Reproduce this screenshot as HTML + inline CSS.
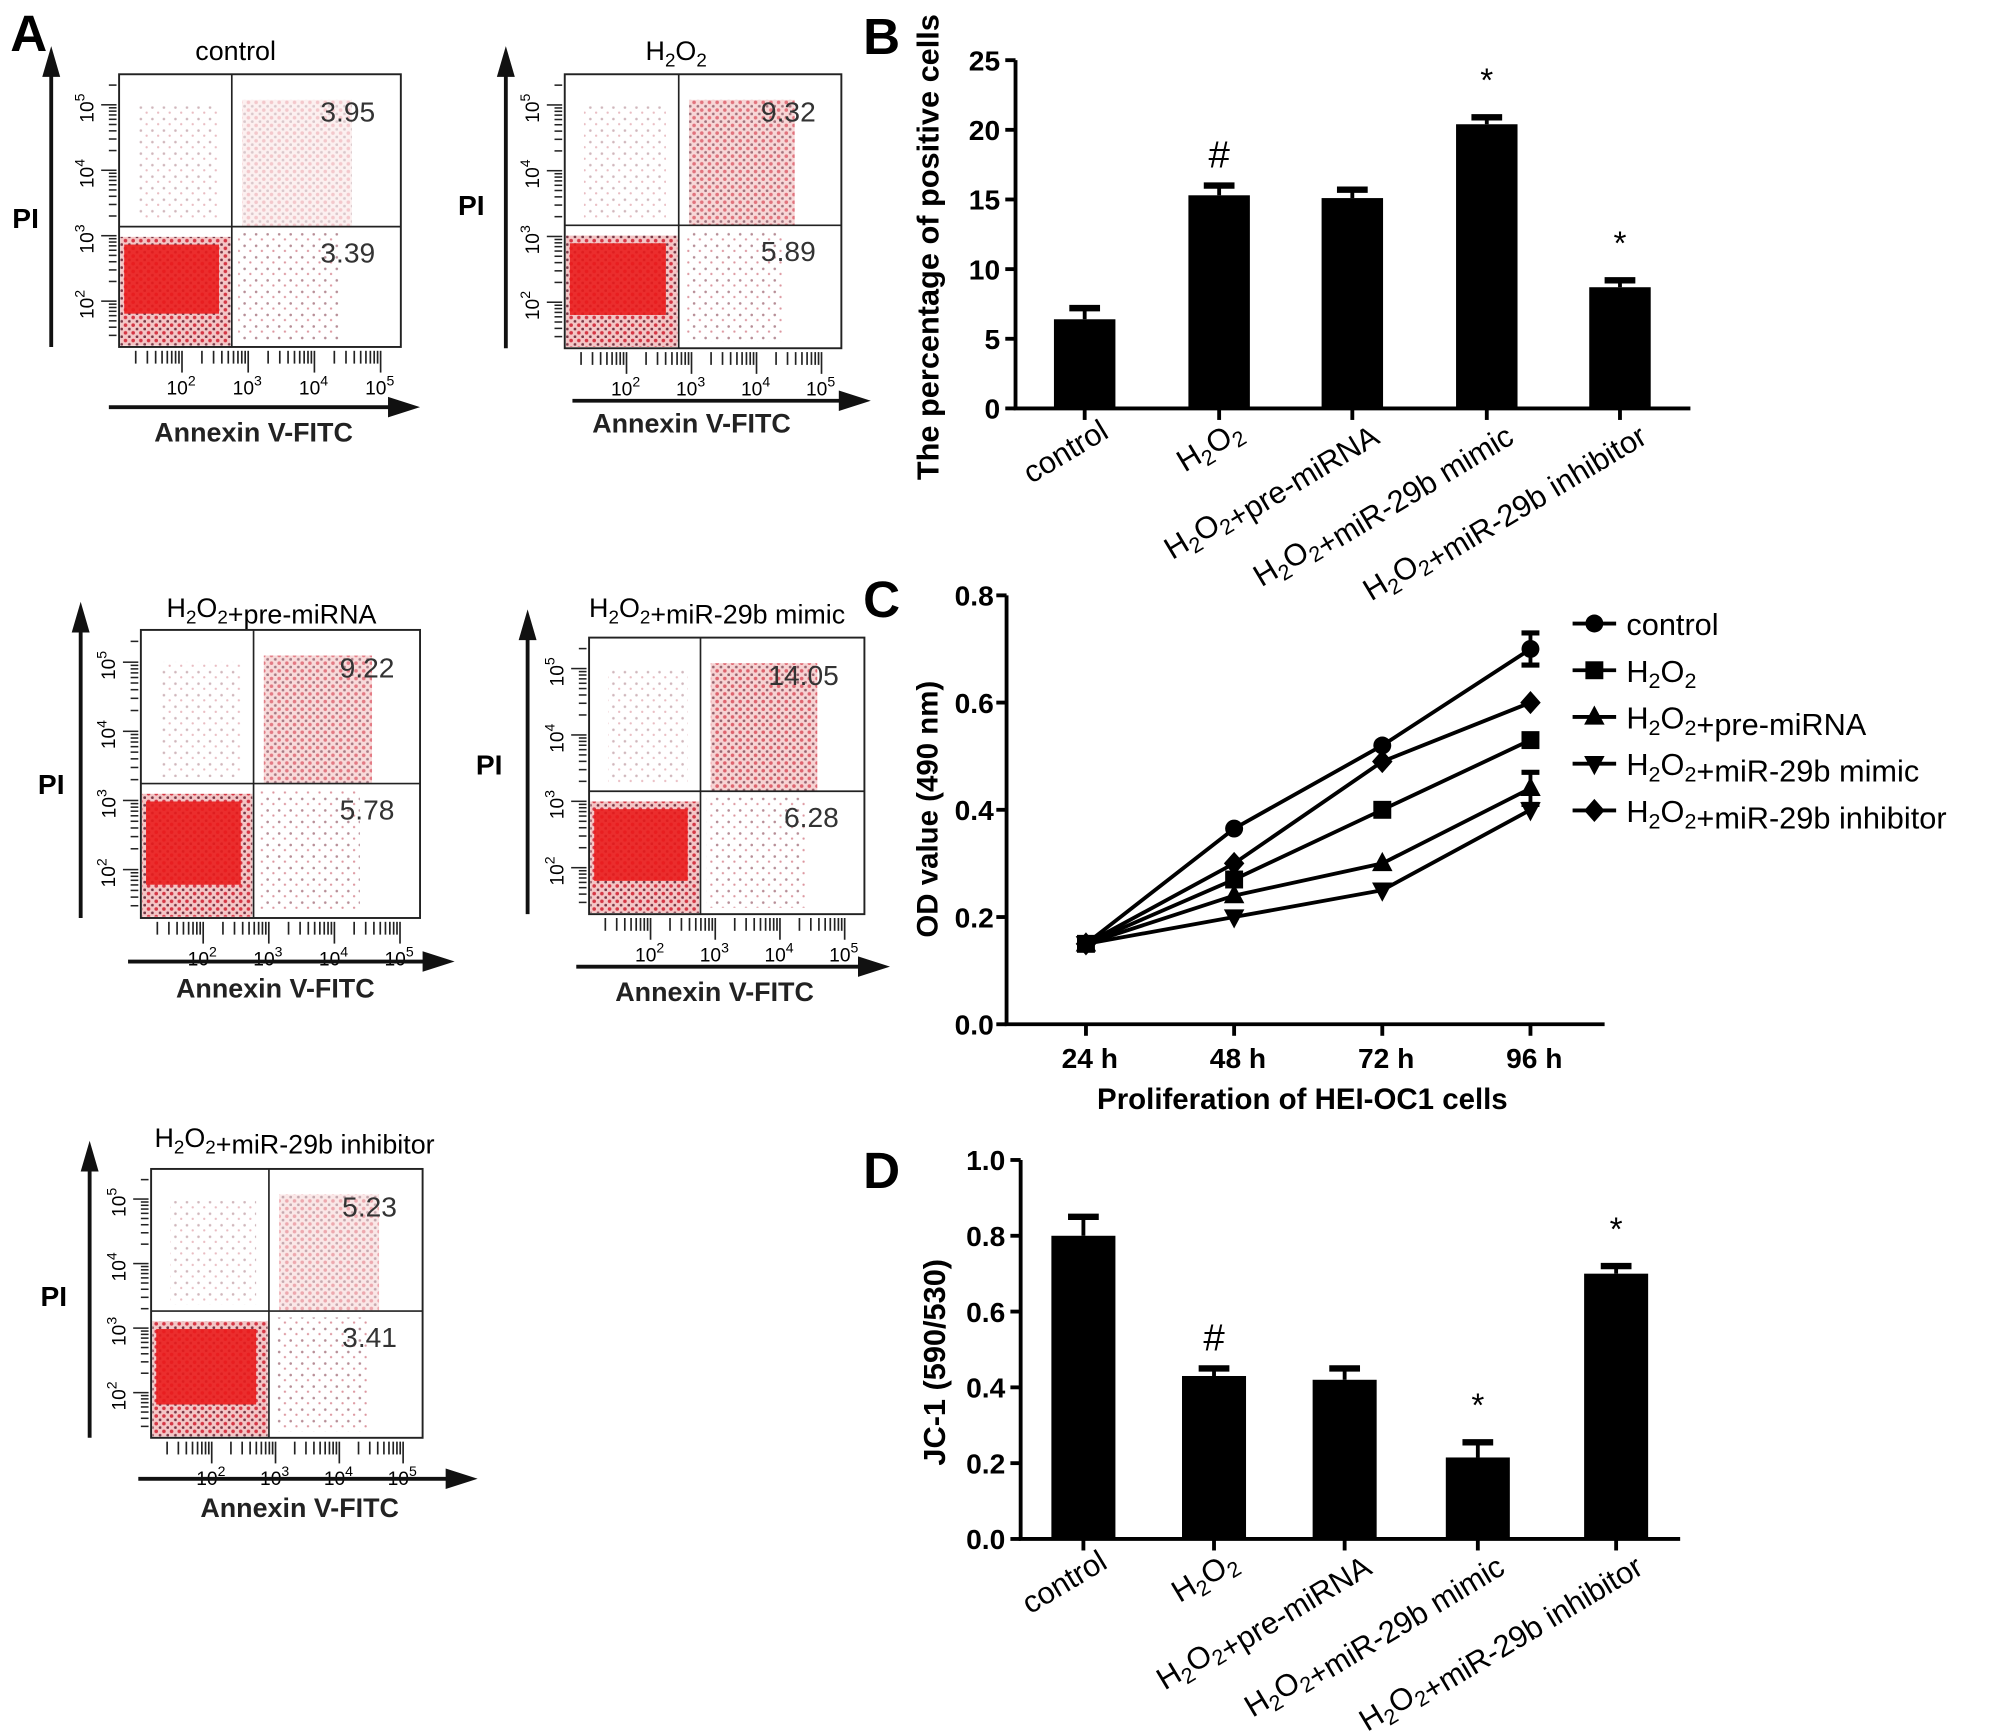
<!DOCTYPE html>
<html><head><meta charset="utf-8"><style>
html,body{margin:0;padding:0;background:#fff;}
svg{display:block;font-family:"Liberation Sans",Arial,sans-serif;}
</style></head><body>
<svg id="fig" width="2008" height="1731" viewBox="0 0 1568 1352" preserveAspectRatio="none" xmlns="http://www.w3.org/2000/svg">
<defs>
<pattern id="dots" width="9" height="9" patternUnits="userSpaceOnUse"><circle cx="2" cy="3" r="1" fill="#7a3040"/><circle cx="6.5" cy="7" r="0.9" fill="#c04050"/></pattern>
<pattern id="dense" width="6" height="6" patternUnits="userSpaceOnUse"><rect width="6" height="6" fill="#f3c0c0"/><circle cx="2" cy="2" r="1.4" fill="#d02030"/><circle cx="5" cy="5" r="1.1" fill="#6a2030"/></pattern>
</defs>
<text x="8" y="40" font-size="40" font-weight="bold">A</text>
<text x="674" y="42" font-size="40" font-weight="bold">B</text>
<text x="674" y="482" font-size="40" font-weight="bold">C</text>
<text x="674" y="928" font-size="40" font-weight="bold">D</text>
<g id="flows"></g>
<g id="chartB"></g>
<g id="chartC"></g>
<g id="chartD"></g>
</svg>
<script>
// ---------- data ----------
const bCategories = ["control","H2O2","H2O2+pre-miRNA","H2O2+miR-29b mimic","H2O2+miR-29b inhibitor"];
const bValues = [6.4, 15.3, 15.1, 20.4, 8.7];
const bErrors = [0.8, 0.7, 0.6, 0.5, 0.5];
const bMarks = ["", "#", "", "*", "*"];
const bTicks = [0, 5, 10, 15, 20, 25];

const cTimes = ["24 h","48 h","72 h","96 h"];
const cSeriesNames = ["control","H2O2","H2O2+pre-miRNA","H2O2+miR-29b mimic","H2O2+miR-29b inhibitor"];
const cControl = [0.15, 0.365, 0.52, 0.70];
const cH2O2 = [0.15, 0.27, 0.40, 0.53];
const cPre = [0.15, 0.24, 0.30, 0.44];
const cMimic = [0.15, 0.20, 0.25, 0.40];
const cInhib = [0.15, 0.30, 0.49, 0.60];
const cErrTop = [0, 0, 0, 0.03];
const cTicks = [0.0, 0.2, 0.4, 0.6, 0.8];

const dValues = [0.80, 0.43, 0.42, 0.215, 0.70];
const dErrors = [0.05, 0.02, 0.03, 0.04, 0.02];
const dMarks = ["", "#", "", "*", "*"];
const dTicks = [0.0, 0.2, 0.4, 0.6, 0.8, 1.0];

const flowTitles = ["control","H2O2","H2O2+pre-miRNA","H2O2+miR-29b mimic","H2O2+miR-29b inhibitor"];
const flowUR = ["3.95","9.32","9.22","14.05","5.23"];
const flowLR = ["3.39","5.89","5.78","6.28","3.41"];

const NS = "http://www.w3.org/2000/svg";
function mk(parent, tag, attrs, text){
  const e = document.createElementNS(NS, tag);
  for (const k in attrs) e.setAttribute(k, attrs[k]);
  if (text !== undefined) e.textContent = text;
  parent.appendChild(e);
  return e;
}
function chemText(parent, label, attrs){
  const t = mk(parent, "text", attrs);
  const parts = label.split(/(H2O2)/);
  parts.forEach(p=>{
    if (p === "H2O2"){
      mk(t,"tspan",{},"H");
      mk(t,"tspan",{"font-size":"0.7em","dy":"5"},"2");
      mk(t,"tspan",{"dy":"-5"},"O");
      mk(t,"tspan",{"font-size":"0.7em","dy":"5"},"2");
      mk(t,"tspan",{"dy":"-5"},"");
    } else if (p) mk(t,"tspan",{},p);
  });
  return t;
}

// ---------- flow plots ----------
const flowGeo = [
 {x0:93,x1:313,y0:58,y1:271,vx:181,hy:177,tx:184,ty:47,pix:20,piy:178,ax:40,hay:318,hax0:85,hax1:328,lbx:198,lby:345},
 {x0:441,x1:657,y0:58,y1:272,vx:530,hy:176,tx:528,ty:47,pix:368,piy:168,ax:395,hay:313,hax0:447,hax1:680,lbx:540,lby:338},
 {x0:110,x1:328,y0:492,y1:717,vx:198,hy:612,tx:212,ty:482,pix:40,piy:620,ax:63,hay:751,hax0:100,hax1:355,lbx:215,lby:779},
 {x0:460,x1:675,y0:498,y1:714,vx:547,hy:618,tx:560,ty:482,pix:382,piy:605,ax:412,hay:755,hax0:450,hax1:695,lbx:558,lby:782},
 {x0:118,x1:330,y0:913,y1:1123,vx:210,hy:1024,tx:230,ty:896,pix:42,piy:1020,ax:70,hay:1155,hax0:108,hax1:373,lbx:234,lby:1185}
];
const flows = document.getElementById("flows");
flowGeo.forEach((g,i)=>{
  const G = mk(flows,"g",{});
  
  
  const t = chemText(G, flowTitles[i], {x:g.tx,y:g.ty,"font-size":"21","text-anchor":"middle"});
  
  
  const w = g.x1-g.x0, h = g.y1-g.y0;
  const dens = [0.35,0.9,0.85,1,0.55][i];
  mk(G,"rect",{x:g.vx+8,y:g.y0+20,width:(g.x1-g.vx)*0.65,height:(g.hy-g.y0)-20,fill:"url(#dense)",opacity:dens*0.7});
  mk(G,"rect",{x:g.x0+15,y:g.y0+25,width:(g.vx-g.x0)-25,height:(g.hy-g.y0)-30,fill:"url(#dots)",opacity:0.35});
  mk(G,"rect",{x:g.vx+5,y:g.hy+5,width:(g.x1-g.vx)*0.6,height:(g.y1-g.hy)-10,fill:"url(#dots)",opacity:0.55});
  mk(G,"rect",{x:g.x0+1,y:g.hy+8,width:(g.vx-g.x0)-2,height:(g.y1-g.hy)-9,fill:"url(#dense)",opacity:0.9});
  mk(G,"rect",{x:g.x0+4,y:g.hy+14,width:(g.vx-g.x0)-14,height:(g.y1-g.hy)-40,fill:"#ea1c1c",opacity:0.9});
  mk(G,"rect",{x:g.x0,y:g.y0,width:w,height:h,fill:"none",stroke:"#222","stroke-width":"1.5"});
  mk(G,"line",{x1:g.vx,y1:g.y0,x2:g.vx,y2:g.y1,stroke:"#222","stroke-width":"1.3"});
  mk(G,"line",{x1:g.x0,y1:g.hy,x2:g.x1,y2:g.hy,stroke:"#222","stroke-width":"1.3"});
  const n1 = mk(G,"text",{x:g.x1-20,y:g.y0+37,"font-size":"22","text-anchor":"end",fill:"#333"},flowUR[i]);
  
  
  const n2 = mk(G,"text",{x:g.x1-20,y:g.hy+28,"font-size":"22","text-anchor":"end",fill:"#333"},flowLR[i]);
  
  
  const dw = w*0.235;
  for(let d=0; d<5; d++){
    const bx = g.x0 + w*0.0 + (d-0.05)*dw;
    for(let m=0;m<9;m++){
      const xx = bx + dw*Math.log10(m+1);
      if (xx > g.x1 - 2 || xx < g.x0 + 2) continue;
      mk(G,"line",{x1:xx,y1:g.y1+3,x2:xx,y2:g.y1+(m===0?20:13),stroke:"#222","stroke-width":"1.3"});
    }
  }
  for(let d=0; d<4; d++){
    const bx = g.x0 + w*(0.22 + d*0.235);
    const tl = mk(G,"text",{x:bx,y:g.y1+37,"font-size":"15","text-anchor":"middle"});
    mk(tl,"tspan",{},"10"); mk(tl,"tspan",{"font-size":"11","dy":"-7"},String(d+2));
  }
  const dh = h*0.24;
  for(let d=0; d<5; d++){
    const by = g.y1 - (d-0.3)*dh;
    for(let m=0;m<9;m++){
      const yy = by - dh*Math.log10(m+1);
      if (yy < g.y0 + 2 || yy > g.y1 - 2) continue;
      mk(G,"line",{x1:g.x0-2,y1:yy,x2:g.x0-(m===0?14:8),y2:yy,stroke:"#222","stroke-width":"1.2"});
    }
  }
  for(let d=0; d<4; d++){
    const ly = g.y1 - h*(0.17 + d*0.24) + 3;
    const tt = mk(G,"text",{x:g.x0-20,y:ly,"font-size":"15","text-anchor":"middle",transform:`rotate(-90 ${g.x0-20} ${ly})`});
    mk(tt,"tspan",{},"10"); mk(tt,"tspan",{"font-size":"11","dy":"-7"},String(d+2));
  }
  mk(G,"line",{x1:g.ax,y1:g.y1,x2:g.ax,y2:g.y0,stroke:"#111","stroke-width":"3"});
  mk(G,"polygon",{points:`${g.ax-7},${g.y0+2} ${g.ax+7},${g.y0+2} ${g.ax},${g.y0-22}`,fill:"#111"});
  mk(G,"line",{x1:g.hax0,y1:g.hay,x2:g.hax1-20,y2:g.hay,stroke:"#111","stroke-width":"3"});
  mk(G,"polygon",{points:`${g.hax1-25},${g.hay-8} ${g.hax1-25},${g.hay+8} ${g.hax1},${g.hay}`,fill:"#111"});
  const pi = mk(G,"text",{x:g.pix,y:g.piy,"font-size":"22","font-weight":"bold","text-anchor":"middle"},"PI");
  
  
  const ax = mk(G,"text",{x:g.lbx,y:g.lby,"font-size":"21","font-weight":"bold","text-anchor":"middle",fill:"#222"},"Annexin V-FITC");
  
  
});

// ---------- bar charts ----------
function barChart(root, cfg){
  const {axisX, axisEnd, y0, yTop, vmax, ticks, fmt, centers, bw, vals, errs, marks, ytitle, ytitleX} = cfg;
  const y = v => y0 - v/vmax*(y0-yTop);
  mk(root,"line",{x1:axisX,y1:y0,x2:axisX,y2:yTop,stroke:"#000","stroke-width":"3"});
  mk(root,"line",{x1:axisX-1.5,y1:y0,x2:axisEnd,y2:y0,stroke:"#000","stroke-width":"3"});
  ticks.forEach(t=>{
    mk(root,"line",{x1:axisX-8,y1:y(t),x2:axisX,y2:y(t),stroke:"#000","stroke-width":"3"});
    const tl = mk(root,"text",{x:axisX-12,y:y(t)+8,"font-size":"22","font-weight":"bold","text-anchor":"end"},fmt(t));
    
    
  });
  vals.forEach((v,i)=>{
    const cx = centers[i];
    const r = mk(root,"rect",{x:cx-bw/2,y:y(v),width:bw,height:y0-y(v),fill:"#000"});
    
    
    mk(root,"line",{x1:cx,y1:y(v),x2:cx,y2:y(v+errs[i]),stroke:"#000","stroke-width":"3"});
    mk(root,"line",{x1:cx-12,y1:y(v+errs[i]),x2:cx+12,y2:y(v+errs[i]),stroke:"#000","stroke-width":"5"});
    mk(root,"line",{x1:cx,y1:y0,x2:cx,y2:y0+9,stroke:"#000","stroke-width":"3"});
    if(marks[i]){
      const m = mk(root,"text",{x:cx,y:y(v+errs[i])-(marks[i]==="#"?14:20),"font-size":marks[i]==="#"?"30":"26","text-anchor":"middle"},marks[i]);
      
      
    }
    const lx = cx+20, ly = y0+22;
    const lab = chemText(root, bCategories[i], {x:lx,y:ly,"font-size":"24","text-anchor":"end",transform:`rotate(-31 ${lx} ${ly})`});
    
    
  });
  const ty = (y0+yTop)/2 + 10;
  const yt = mk(root,"text",{x:ytitleX,y:ty,"font-size":"24","font-weight":"bold","text-anchor":"middle",transform:`rotate(-90 ${ytitleX} ${ty})`},ytitle);
  
  
}
const gB = document.getElementById("chartB");


barChart(gB,{axisX:793,axisEnd:1320,y0:319,yTop:47,vmax:25,ticks:bTicks,fmt:t=>String(t),
  centers:[847,952,1056,1161,1265],bw:48,vals:bValues,errs:bErrors,marks:bMarks,
  ytitle:"The percentage of positive cells",ytitleX:733});
const gD = document.getElementById("chartD");


barChart(gD,{axisX:797,axisEnd:1312,y0:1202,yTop:906,vmax:1.0,ticks:dTicks,fmt:t=>t.toFixed(1),
  centers:[846,948,1050,1154,1262],bw:50,vals:dValues,errs:dErrors,marks:dMarks,
  ytitle:"JC-1 (590/530)",ytitleX:738});

// ---------- line chart C ----------
const gC = document.getElementById("chartC");


(function(){
  const axisX=786, axisEnd=1253, y0=800, yTop=465, vmax=0.8;
  const y = v => y0 - v/vmax*(y0-yTop);
  const x = i => 848 + i*115.7;
  mk(gC,"line",{x1:axisX,y1:y0,x2:axisX,y2:yTop,stroke:"#000","stroke-width":"3"});
  mk(gC,"line",{x1:axisX-1.5,y1:y0,x2:axisEnd,y2:y0,stroke:"#000","stroke-width":"3"});
  cTicks.forEach(t=>{
    mk(gC,"line",{x1:axisX-8,y1:y(t),x2:axisX,y2:y(t),stroke:"#000","stroke-width":"3"});
    const tl = mk(gC,"text",{x:axisX-10,y:y(t)+8,"font-size":"22","font-weight":"bold","text-anchor":"end"},t.toFixed(1));
    
    
  });
  cTimes.forEach((t,i)=>{
    mk(gC,"line",{x1:x(i),y1:y0,x2:x(i),y2:y0+9,stroke:"#000","stroke-width":"3"});
    const tl = mk(gC,"text",{x:x(i)+3,y:y0+34,"font-size":"22","font-weight":"bold","text-anchor":"middle"},t);
    
    
  });
  const xt = mk(gC,"text",{x:1017,y:866,"font-size":"23","font-weight":"bold","text-anchor":"middle"},"Proliferation of HEI-OC1 cells");
  
  
  const yt = mk(gC,"text",{x:732,y:632,"font-size":"23","font-weight":"bold","text-anchor":"middle",transform:"rotate(-90 732 632)"},"OD value (490 nm)");
  
  
  const series = [cControl,cH2O2,cPre,cMimic,cInhib];
  const shapes = ["circle","square","tri","tridown","diamond"];
  function marker(g, s, cx, cy){
    const r=8;
    if(s==="circle") return mk(g,"circle",{cx,cy,r:7,fill:"#000"});
    if(s==="square") return mk(g,"rect",{x:cx-7,y:cy-7,width:14,height:14,fill:"#000"});
    if(s==="tri") return mk(g,"polygon",{points:`${cx-r},${cy+6} ${cx+r},${cy+6} ${cx},${cy-9}`,fill:"#000"});
    if(s==="tridown") return mk(g,"polygon",{points:`${cx-r},${cy-6} ${cx+r},${cy-6} ${cx},${cy+9}`,fill:"#000"});
    return mk(g,"polygon",{points:`${cx-8},${cy} ${cx},${cy-9} ${cx+8},${cy} ${cx},${cy+9}`,fill:"#000"});
  }
  series.forEach((sv,si)=>{
    const g = mk(gC,"g",{});
    
    
    mk(g,"polyline",{points:sv.map((v,i)=>`${x(i)},${y(v)}`).join(" "),fill:"none",stroke:"#000","stroke-width":"3"});
    sv.forEach((v,i)=>{
      if(si===0 || si===2){
        const e = cErrTop[i];
        if(e){ mk(g,"line",{x1:x(i),y1:y(v-e),x2:x(i),y2:y(v+e),stroke:"#000","stroke-width":"3"});
          mk(g,"line",{x1:x(i)-7,y1:y(v+e),x2:x(i)+7,y2:y(v+e),stroke:"#000","stroke-width":"4"});
          mk(g,"line",{x1:x(i)-7,y1:y(v-e),x2:x(i)+7,y2:y(v-e),stroke:"#000","stroke-width":"4"}); }
      }
      const m = marker(g, shapes[si], x(i), y(v));
      
      
    });
  });
  cSeriesNames.forEach((n,i)=>{
    const ly = 487 + i*36.5;
    const g = mk(gC,"g",{});
    
    
    mk(g,"line",{x1:1228,y1:ly,x2:1262,y2:ly,stroke:"#000","stroke-width":"3"});
    marker(g, shapes[i], 1245, ly);
    chemText(g, n, {x:1270,y:ly+9,"font-size":"24"});
  });
})();
</script>
</body></html>
